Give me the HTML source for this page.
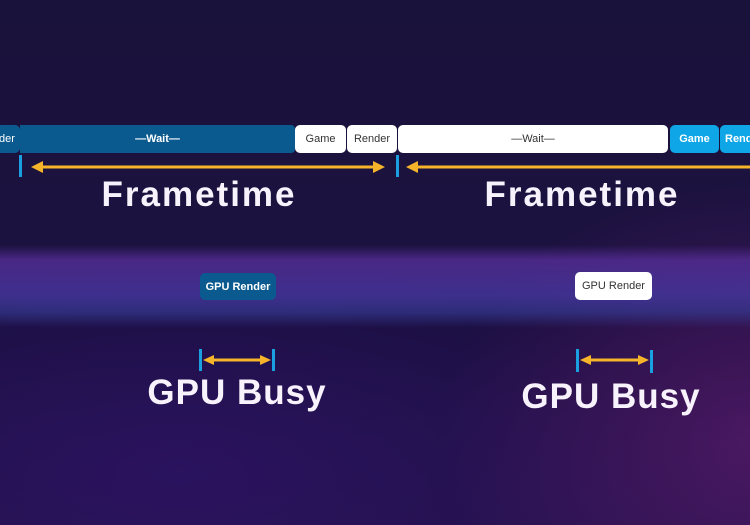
<!DOCTYPE html>
<html><head><style>
body{margin:0;width:750px;height:525px;overflow:hidden;font-family:"Liberation Sans",sans-serif;}
#bg{position:absolute;left:0;top:0;width:750px;height:525px;
background:
linear-gradient(180deg,rgba(0,0,0,0) 0,rgba(0,0,0,0) 245px,rgba(85,45,150,.8) 260px,rgba(70,55,160,.8) 295px,rgba(55,60,150,.65) 312px,rgba(0,0,0,0) 328px),
radial-gradient(ellipse 320px 260px at 760px 440px,rgba(110,30,120,.55),rgba(0,0,0,0)),
radial-gradient(ellipse 500px 220px at 180px 470px,rgba(50,20,110,.6),rgba(0,0,0,0)),
linear-gradient(180deg,#19123a 0,#1c1240 240px,#1a0f40 330px,#22124a 525px);}
.b{position:absolute;font-size:11px;display:flex;align-items:center;justify-content:center;box-sizing:border-box;border-radius:5px;}
.t{position:absolute;background:#1aa0e0;width:3px;}
.ft{position:absolute;color:#f7f2fb;font-weight:bold;font-size:35px;letter-spacing:2px;text-align:center;width:320px;}
</style></head><body><div id="bg"></div>
<div class="b" style="left:-6px;top:125px;width:26px;height:28px;background:#0b5a8f;color:#fff;">der</div>
<div class="b" style="left:20px;top:125px;width:275px;height:28px;background:#0b5a8f;color:#fff;border-radius:0 4px 4px 0;font-weight:bold;">—Wait—</div>
<div class="b" style="left:295px;top:125px;width:51px;height:28px;background:#fff;color:#333;">Game</div>
<div class="b" style="left:347px;top:125px;width:50px;height:28px;background:#fff;color:#333;">Render</div>
<div class="b" style="left:398px;top:125px;width:270px;height:28px;background:#fff;color:#333;">—Wait—</div>
<div class="b" style="left:670px;top:125px;width:49px;height:28px;background:#0fa6e8;color:#fff;font-weight:bold;">Game</div>
<div class="b" style="left:720px;top:125px;width:50px;height:28px;background:#0fa6e8;color:#fff;justify-content:flex-start;padding-left:5px;font-weight:bold;">Render</div>
<div class="t" style="left:19px;top:155px;height:22px;"></div>
<div class="t" style="left:396px;top:155px;height:22px;"></div>
<svg width="750" height="525" style="position:absolute;left:0;top:0">
<g fill="#f5b429" stroke="#f5b429">
<line x1="40" y1="167" x2="376" y2="167" stroke-width="3"/>
<polygon points="31,167 43,161 43,173" stroke="none"/><polygon points="385,167 373,161 373,173" stroke="none"/>
<line x1="415" y1="167" x2="750" y2="167" stroke-width="3"/>
<polygon points="406,167 418,161 418,173" stroke="none"/>
<line x1="210" y1="360" x2="264" y2="360" stroke-width="3"/>
<polygon points="203,360 214,355 214,365" stroke="none"/><polygon points="271,360 260,355 260,365" stroke="none"/>
<line x1="587" y1="360" x2="642" y2="360" stroke-width="3"/>
<polygon points="580,360 591,355 591,365" stroke="none"/><polygon points="649,360 638,355 638,365" stroke="none"/>
</g></svg>
<div class="ft" style="left:39px;top:175px;">Frametime</div>
<div class="ft" style="left:422px;top:175px;">Frametime</div>
<div class="b" style="left:200px;top:273px;width:76px;height:27px;background:#0b5a8f;color:#fff;font-weight:bold;">GPU Render</div>
<div class="b" style="left:575px;top:272px;width:77px;height:28px;background:#fff;color:#333;">GPU Render</div>
<div class="t" style="left:199px;top:349px;height:22px;"></div>
<div class="t" style="left:272px;top:349px;height:22px;"></div>
<div class="t" style="left:576px;top:349px;height:23px;"></div>
<div class="t" style="left:650px;top:350px;height:23px;"></div>
<div class="ft" style="left:77px;top:373px;font-size:35px;letter-spacing:1px;">GPU Busy</div>
<div class="ft" style="left:451px;top:377px;font-size:35px;letter-spacing:1px;">GPU Busy</div>
</body></html>
